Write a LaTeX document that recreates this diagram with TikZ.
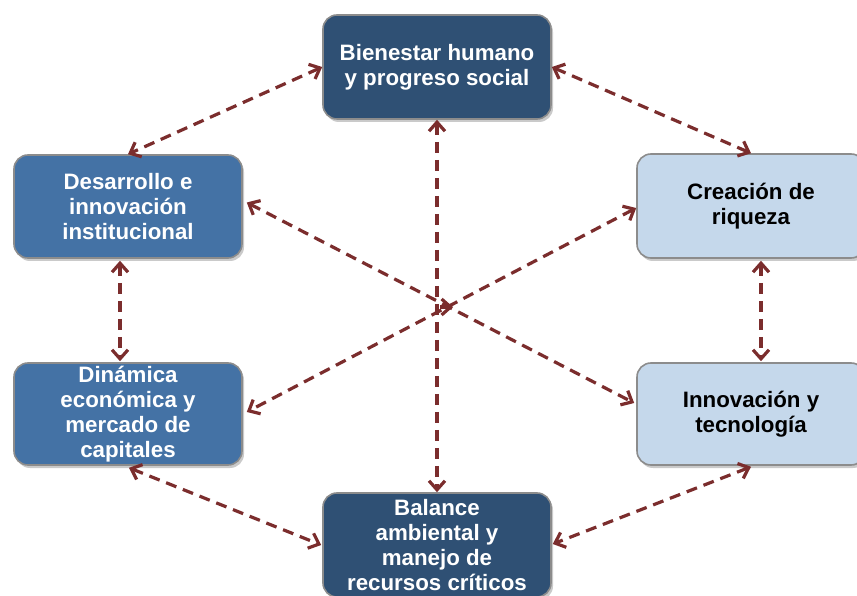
\documentclass[tikz,border=0pt]{standalone}
\usepackage{fontspec}
\setmainfont{Liberation Sans}
\usetikzlibrary{arrows.meta,shadows}
\definecolor{cDark}{RGB}{47,80,116}
\definecolor{cMid}{RGB}{68,114,165}
\definecolor{cLight}{RGB}{197,216,235}
\definecolor{cBorder}{RGB}{140,140,140}
\definecolor{cArrow}{RGB}{123,45,45}
\begin{document}
\begin{tikzpicture}[x=1pt,y=1pt,
  box/.style={rounded corners=14pt, draw=cBorder, line width=1.6pt,
    minimum width=228pt, align=center, inner sep=0pt,
    font=\fontsize{22.3}{24.8}\selectfont\bfseries,
    drop shadow={shadow xshift=2pt, shadow yshift=-3pt, opacity=0.35, fill=black!60}},
  darkbox/.style={box, fill=cDark, text=white},
  midbox/.style={box, fill=cMid, text=white},
  lightbox/.style={box, fill=cLight, text=black},
  barb/.style={Straight Barb[length=9pt,width=16pt,line width=3pt]},
  link/.style={draw=cArrow, line width=3.2pt, dash pattern=on 11pt off 7pt,
    {Straight Barb[length=9pt,width=16pt]}-{Straight Barb[length=9pt,width=16pt]}},
  tiplink/.style={draw=cArrow, line width=3.2pt, -{Straight Barb[length=9pt,width=16pt]}}
]
\useasboundingbox (0,0) rectangle (857,595);

\node[darkbox, minimum height=104pt] (top) at (437,528) {Bienestar humano\\y progreso social};
\node[midbox, minimum height=103pt] (lu) at (128,388.5) {Desarrollo e\\innovación\\institucional};
\node[lightbox, minimum height=104pt] (ru) at (751,389) {Creación de\\riqueza};
\node[midbox, minimum height=102pt] (ll) at (128,181) {Dinámica\\económica y\\mercado de\\capitales};
\node[lightbox, minimum height=102pt] (rl) at (751,181) {Innovación y\\tecnología};
\node[darkbox, minimum height=104pt] (bot) at (437,50) {Balance\\ambiental y\\manejo de\\recursos críticos};

\draw[link] (top.west) -- (lu.north);
\draw[link] (top.east) -- (ru.north);
\draw[link] (top.south) -- (bot.north);
\draw[link] ([shift={(4pt,4pt)}]lu.east) -- ([shift={(-2pt,11pt)}]rl.west);
\draw[link] ([shift={(0pt,-2pt)}]ru.west) -- ([shift={(4pt,2pt)}]ll.east);
\draw[link] ([shift={(-8pt,-2pt)}]lu.south) -- ([shift={(-8pt,1pt)}]ll.north);
\draw[link] ([shift={(10pt,-2pt)}]ru.south) -- ([shift={(10pt,1pt)}]rl.north);
\draw[link] ([shift={(1pt,-2pt)}]ll.south) -- ([shift={(-1pt,0pt)}]bot.west);
\draw[link] ([shift={(0pt,-1pt)}]rl.south) -- ([shift={(1pt,1pt)}]bot.east);

\coordinate (xa) at (440,288);
\coordinate (xb) at (453,288);
\draw[tiplink] (xa) -- (xb);
\end{tikzpicture}
\end{document}
